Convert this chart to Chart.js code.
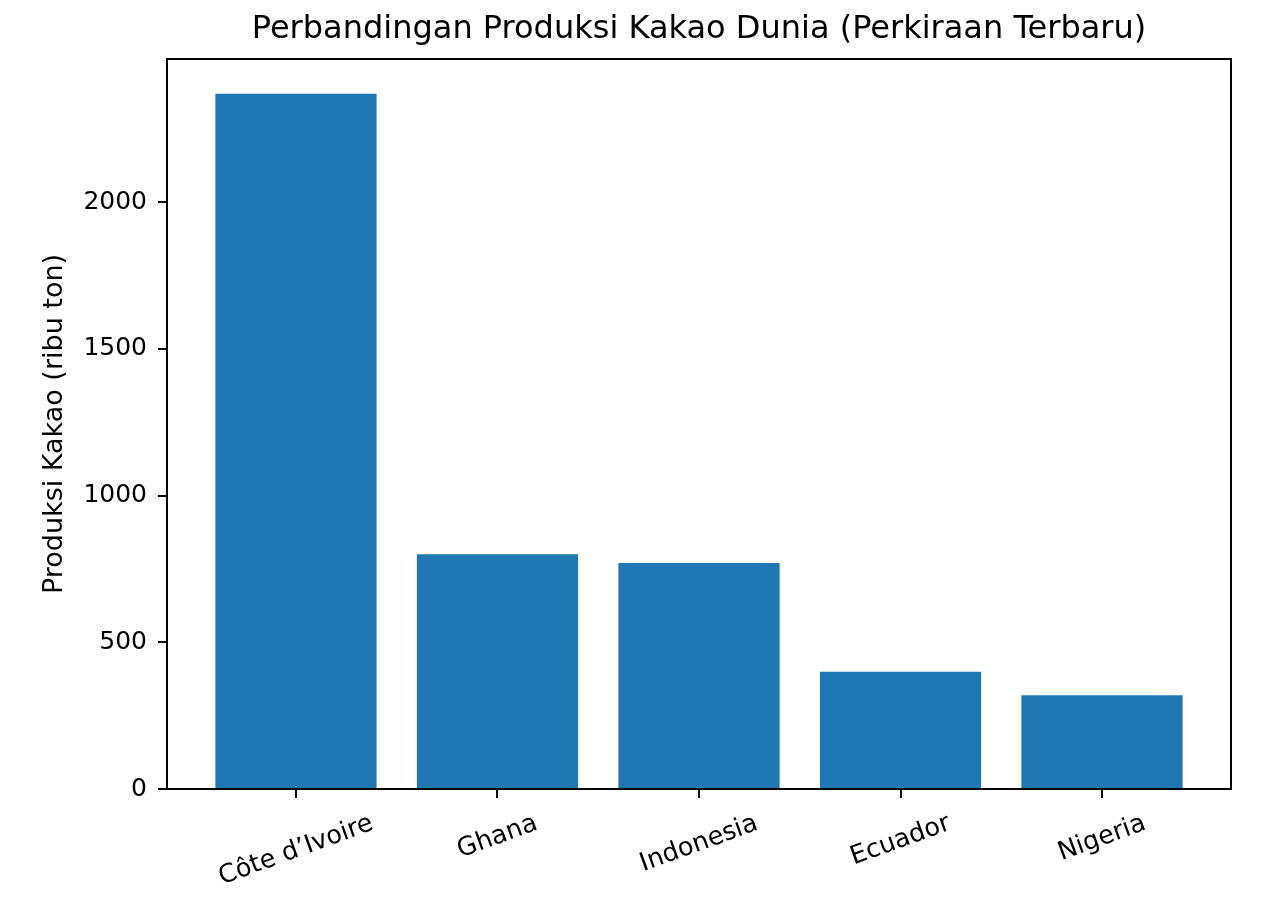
<!DOCTYPE html>
<html lang="id">
<head>
<meta charset="UTF-8">
<title>Perbandingan Produksi Kakao Dunia</title>
<script src="https://cdn.jsdelivr.net/npm/chart.js@4.4.1/dist/chart.umd.min.js"></script>
<style>
    html, body { margin: 0; padding: 0; background: #ffffff; }
    #wrap { width: 1280px; height: 901px; }
</style>
</head>
<body>
<div id="wrap"><canvas id="cocoaChart" width="1280" height="901"></canvas></div>
<script>
// Chart data
const countries = ['Côte d’Ivoire', 'Ghana', 'Indonesia', 'Ecuador', 'Nigeria'];
const production = [2370, 800, 770, 400, 320];
const yTickValues = [0, 500, 1000, 1500, 2000];

const chartTitle = 'Perbandingan Produksi Kakao Dunia (Perkiraan Terbaru)';
const yAxisLabel = 'Produksi Kakao (ribu ton)';

const FONT = "'DejaVu Sans', 'Liberation Sans', sans-serif";
const TICK_SIZE = 25;
const XLABEL_SIZE = 25.5;
const barColor = '#1f77b4';

// Draws the box round the plot and the rotated, centred country labels
const frameAndLabels = {
    id: 'frameAndLabels',
    afterDatasetsDraw(chart) {
        const { ctx, chartArea } = chart;
        ctx.save();
        ctx.strokeStyle = '#000';
        ctx.lineWidth = 2;
        ctx.strokeRect(chartArea.left, chartArea.top,
            chartArea.right - chartArea.left, chartArea.bottom - chartArea.top);
        ctx.restore();
    },
    afterDraw(chart) {
        const { ctx, chartArea } = chart;
        const xScale = chart.scales.x;
        const angle = 20 * Math.PI / 180;
        ctx.save();
        ctx.font = XLABEL_SIZE + 'px ' + FONT;
        ctx.fillStyle = '#000';
        ctx.textAlign = 'center';
        ctx.textBaseline = 'middle';
        countries.forEach((name, i) => {
            const w = ctx.measureText(name).width;
            const h = XLABEL_SIZE * 0.98;
            const boxH = w * Math.sin(angle) + h * Math.cos(angle);
            const cx = xScale.getPixelForValue(i);
            const cy = chartArea.bottom + 22 + boxH / 2;
            ctx.save();
            ctx.translate(cx, cy);
            ctx.rotate(-angle);
            ctx.fillText(name, 0, 0);
            ctx.restore();
        });
        ctx.restore();
    }
};

const axisLines = {
    display: true,
    drawOnChartArea: false,
    drawTicks: true,
    tickLength: 9,
    offset: false,
    color: '#000',
    lineWidth: 2
};

const ctx = document.getElementById('cocoaChart').getContext('2d');
new Chart(ctx, {
    type: 'bar',
    data: {
        datasets: [{
            label: yAxisLabel,
            data: production.map((v, i) => ({ x: i, y: v })),
            backgroundColor: barColor,
            borderWidth: 0,
            barPercentage: 0.8,
            categoryPercentage: 1.0
        }]
    },
    options: {
        responsive: false,
        animation: false,
        devicePixelRatio: 1,
        layout: { padding: { left: 0, right: 49, top: 0, bottom: 0 } },
        scales: {
            x: {
                type: 'linear',
                offset: false,
                min: -0.64,
                max: countries.length - 1 + 0.64,
                afterBuildTicks: axis => { axis.ticks = countries.map((c, i) => ({ value: i })); },
                afterFit: axis => { axis.height = 112; },
                grid: axisLines,
                border: { display: true, color: '#000', width: 2 },
                ticks: { display: false }
            },
            y: {
                min: 0,
                max: Math.max(...production) * 1.05,
                afterBuildTicks: axis => { axis.ticks = yTickValues.map(v => ({ value: v })); },
                afterFit: axis => { axis.width = 167; },
                grid: axisLines,
                border: { display: true, color: '#000', width: 2 },
                ticks: {
                    color: '#000',
                    padding: 11,
                    font: { family: FONT, size: TICK_SIZE },
                    callback: v => String(v)
                },
                title: {
                    display: true,
                    text: yAxisLabel,
                    color: '#000',
                    font: { family: FONT, size: 27 },
                    padding: { top: 39, bottom: 0 }
                }
            }
        },
        plugins: {
            title: {
                display: true,
                fullSize: false,
                text: chartTitle,
                color: '#000',
                font: { family: FONT, size: 32, weight: 'normal' },
                padding: { top: 10.4, bottom: 10.2 }
            },
            legend: { display: false },
            tooltip: { enabled: false }
        }
    },
    plugins: [frameAndLabels]
});
</script>
</body>
</html>
